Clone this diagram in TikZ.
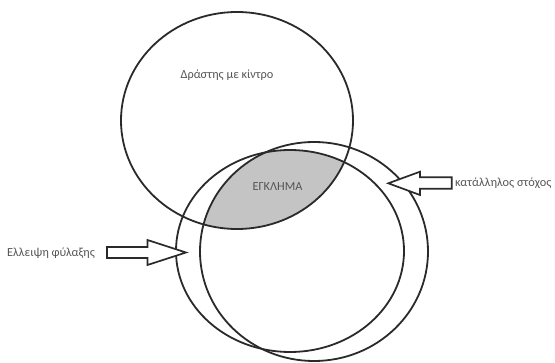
\documentclass[tikz,border=0pt]{standalone}
\usepackage{fontspec}
\setmainfont{Carlito}
\definecolor{ln}{HTML}{2A2A2A}
\definecolor{fillg}{HTML}{C4C4C4}
\definecolor{txt}{HTML}{555555}
\tikzset{
  shapeline/.style={draw=ln, line width=1.8pt},
  lbl/.style={text=txt, inner sep=0pt, font=\fontsize{12.3}{14}\selectfont},
  blockarrow/.style={draw=ln, line width=1.7pt, fill=white, line join=miter}
}
\begin{document}
\begin{tikzpicture}[x=1pt,y=-1pt]
\useasboundingbox (0,0) rectangle (555,363);
% shaded intersection
\begin{scope}
  \clip (237,120.5) ellipse [x radius=116pt, y radius=108.5pt];
  \clip (290,251) ellipse [x radius=114pt, y radius=101pt];
  \fill[fillg] (314,251.5) ellipse [x radius=114pt, y radius=109.5pt];
\end{scope}
% outlines
\draw[shapeline] (237,120.5) ellipse [x radius=116pt, y radius=108.5pt];
\draw[shapeline] (290,251) ellipse [x radius=114pt, y radius=101pt];
\draw[shapeline] (314,251.5) ellipse [x radius=114pt, y radius=109.5pt];
% labels
\node[lbl] (drastis) at (227,75) {Δράστης με κίντρο};
\node[lbl] (egklima) at (277.5,187) {ΕΓΚΛΗΜΑ};
\node[lbl, anchor=west] (stoxos) at (455,183.5) {κατάλληλος στόχος};
\node[lbl, anchor=west] (fylaxi) at (7,253) {Ελλειψη φύλαξης};
% block arrows
\draw[blockarrow] (388.3,183.3) -- (420,171.7) -- (420,177.3) -- (451.7,177.3)
  -- (451.7,188.7) -- (420,188.7) -- (420,195) -- cycle;
\draw[blockarrow] (186,252.5) -- (147.5,240) -- (147.5,247) -- (107,247)
  -- (107,258) -- (147.5,258) -- (147.5,265) -- cycle;
\end{tikzpicture}
\end{document}
